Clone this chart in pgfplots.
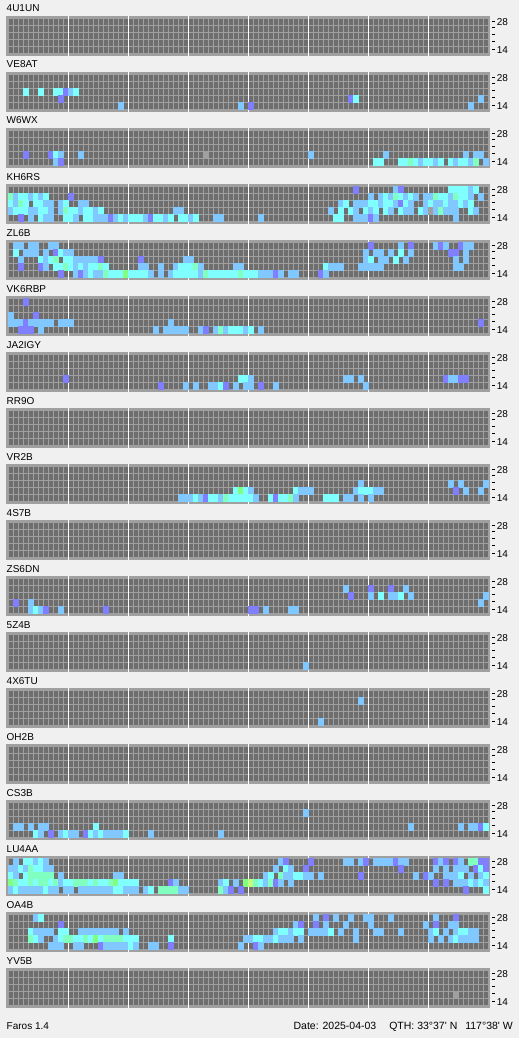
\documentclass[border=0pt]{standalone}
\usepackage{pgfplots}
\pgfplotsset{compat=1.18}
\usepackage{fontspec}
\setmainfont{Liberation Sans}
\definecolor{winbg}{HTML}{F0F0F0}
\definecolor{framegray}{HTML}{A0A0A0}
\definecolor{cellgray}{HTML}{6E6E6E}
\definecolor{colB}{HTML}{80C8FF}
\definecolor{colC}{HTML}{80FFFF}
\definecolor{colP}{HTML}{8080FF}
\definecolor{colM}{HTML}{80FFC0}
\definecolor{colG}{HTML}{80FF80}
\definecolor{colY}{HTML}{C0FF80}
\definecolor{colH}{HTML}{A0A0A0}
\newcommand{\dash}{\rule[3.2pt]{3pt}{0.8pt}}
\newcommand{\lbl}[1]{\mbox{\fontsize{10}{12}\selectfont#1}}
\pgfplotsset{
  panel/.style={
    scale only axis, width=484pt, height=40pt,
    xmin=-1, xmax=95.8, ymin=-0.857, ymax=4.857,
    axis background/.style={fill=framegray},
    axis line style={draw=none},
    axis on top,
    major tick length=0pt, minor tick length=0pt,
    xtick={-0.5,0.5,...,10.5,12.5,13.5,...,22.5,24.5,25.5,...,34.5,36.5,37.5,...,46.5,48.5,49.5,...,58.5,60.5,61.5,...,70.5,72.5,73.5,...,82.5,84.5,85.5,...,95.5},
    xticklabels={},
    xmajorgrids, major x grid style={framegray, line width=1pt},
    extra x ticks={11.5,23.5,35.5,47.5,59.5,71.5,83.5}, extra x tick labels={},
    extra x tick style={grid=major, major x grid style={white, line width=1pt}, major grid style={white, line width=1pt}},
    ytick={-0.5,0.5,...,4.5}, yticklabels={},
    ymajorgrids, major y grid style={framegray, line width=1pt},
    extra y ticks={0,1,2,3,4},
    extra y tick labels={\lbl{\dash\,14},\lbl{\dash},\lbl{\dash},\lbl{\dash},\lbl{\dash\,28}},
    extra y tick style={grid=none},
    ytick pos=right, yticklabel pos=right,
    yticklabel style={anchor=west, inner sep=0pt, xshift=2pt},
  },
  cellplot/.style={scatter, only marks, point meta=explicit symbolic,
    mark=square*, mark size=2.5pt, mark options={yscale=1.4},
    scatter/classes={b={mark=square*,colB}, c={mark=square*,colC}, p={mark=square*,colP},
      m={mark=square*,colM}, g={mark=square*,colG}, y={mark=square*,colY}, h={mark=square*,colH}}},
}
\newcommand{\cells}[1]{\addplot[cellplot] table[row sep=\\, header=false, x index=0, y index=1, meta index=2]{#1};}
\newcommand{\panel}[3]{%
  \node[anchor=base west, inner sep=0pt, font=\fontsize{10}{12}\selectfont] at (6.5pt,{-12pt-56pt*#1}) {#2};
  \begin{axis}[panel, at={(6pt,{-56pt-56pt*#1})}, anchor=south west]
    \addplot[fill=cellgray, draw=none] coordinates {(-0.5,-0.5) (95.5,-0.5) (95.5,4.5) (-0.5,4.5)};
    #3
  \end{axis}}
\begin{document}
\begin{tikzpicture}
\path[use as bounding box, fill=winbg] (0,0) rectangle (519pt,-1038pt);

\panel{0}{4U1UN}{}

\panel{1}{VE8AT}{\cells{3 2 c\\6 2 c\\9 2 c\\10 2 c\\11 2 p\\12 2 b\\13 2 c\\
10 1 p\\68 1 p\\69 1 c\\94 1 b\\
22 0 b\\46 0 b\\48 0 p\\92 0 b\\}}

\panel{2}{W6WX}{\cells{3 1 p\\8 1 p\\9 1 c\\10 1 b\\14 1 b\\39 1 h\\60 1 b\\75 1 b\\91 1 b\\93 1 b\\94 1 b\\
9 0 b\\10 0 p\\73 0 c\\74 0 c\\78 0 c\\79 0 c\\80 0 m\\81 0 c\\82 0 b\\83 0 c\\84 0 c\\85 0 b\\86 0 c\\88 0 c\\89 0 b\\90 0 c\\91 0 c\\92 0 b\\93 0 m\\95 0 b\\}}

\panel{3}{KH6RS}{\cells{69 4 p\\77 4 b\\78 4 p\\88 4 c\\89 4 c\\90 4 c\\91 4 c\\92 4 b\\93 4 c\\
0 3 m\\1 3 b\\2 3 c\\3 3 c\\4 3 b\\5 3 c\\6 3 b\\7 3 c\\12 3 p\\72 3 b\\74 3 b\\75 3 c\\76 3 b\\77 3 m\\78 3 c\\79 3 b\\80 3 c\\81 3 b\\83 3 b\\84 3 b\\85 3 m\\86 3 c\\87 3 c\\88 3 b\\89 3 m\\90 3 c\\91 3 c\\92 3 b\\94 3 b\\
0 2 c\\1 2 b\\2 2 m\\3 2 c\\5 2 c\\6 2 c\\7 2 b\\8 2 b\\10 2 b\\11 2 c\\14 2 b\\15 2 b\\66 2 b\\67 2 c\\69 2 b\\70 2 b\\71 2 b\\72 2 c\\73 2 c\\74 2 b\\75 2 c\\76 2 c\\77 2 b\\78 2 p\\79 2 c\\80 2 b\\83 2 b\\84 2 c\\85 2 b\\86 2 b\\87 2 c\\88 2 b\\89 2 b\\90 2 c\\91 2 b\\92 2 c\\
0 1 b\\1 1 c\\2 1 c\\3 1 c\\4 1 b\\5 1 b\\6 1 c\\7 1 c\\8 1 b\\10 1 b\\11 1 m\\12 1 c\\13 1 c\\14 1 b\\15 1 c\\16 1 c\\17 1 b\\18 1 c\\33 1 b\\34 1 b\\64 1 b\\66 1 c\\68 1 c\\69 1 b\\71 1 c\\72 1 b\\73 1 c\\75 1 c\\76 1 b\\78 1 c\\79 1 b\\80 1 b\\82 1 c\\83 1 b\\84 1 h\\85 1 b\\86 1 m\\87 1 b\\88 1 b\\89 1 b\\92 1 c\\93 1 b\\
2 0 p\\4 0 b\\6 0 c\\7 0 b\\8 0 b\\11 0 c\\12 0 c\\13 0 b\\15 0 c\\16 0 c\\17 0 b\\18 0 b\\19 0 b\\20 0 p\\21 0 b\\22 0 c\\23 0 b\\24 0 c\\25 0 c\\26 0 c\\27 0 b\\28 0 p\\29 0 c\\30 0 c\\31 0 b\\32 0 c\\34 0 c\\35 0 c\\36 0 b\\37 0 c\\41 0 b\\42 0 b\\50 0 b\\65 0 c\\66 0 c\\69 0 b\\70 0 b\\71 0 b\\72 0 p\\73 0 b\\89 0 b\\}}

\panel{4}{ZL6B}{\cells{1 4 b\\2 4 b\\4 4 b\\5 4 b\\8 4 b\\9 4 b\\72 4 p\\78 4 b\\80 4 p\\85 4 b\\86 4 p\\87 4 b\\90 4 p\\91 4 b\\92 4 b\\
1 3 c\\3 3 b\\4 3 b\\5 3 b\\7 3 b\\9 3 p\\10 3 c\\11 3 b\\12 3 b\\71 3 b\\73 3 b\\74 3 b\\76 3 b\\78 3 c\\80 3 b\\88 3 p\\89 3 p\\91 3 b\\
2 2 b\\6 2 c\\7 2 b\\8 2 c\\9 2 m\\11 2 c\\12 2 c\\13 2 b\\14 2 b\\15 2 b\\16 2 b\\17 2 b\\18 2 p\\26 2 p\\35 2 b\\36 2 b\\71 2 b\\72 2 c\\74 2 b\\75 2 b\\77 2 c\\79 2 b\\89 2 b\\91 2 b\\
2 1 p\\6 1 p\\7 1 b\\9 1 c\\10 1 c\\11 1 m\\12 1 c\\13 1 b\\14 1 c\\15 1 b\\16 1 c\\17 1 c\\18 1 m\\19 1 c\\26 1 b\\27 1 b\\30 1 b\\33 1 b\\34 1 c\\35 1 c\\36 1 c\\37 1 m\\38 1 b\\45 1 b\\46 1 b\\63 1 c\\64 1 b\\65 1 b\\66 1 b\\70 1 b\\71 1 b\\72 1 b\\73 1 b\\74 1 b\\89 1 b\\90 1 b\\
10 0 p\\13 0 b\\14 0 p\\15 0 b\\16 0 c\\17 0 b\\18 0 b\\19 0 m\\20 0 c\\21 0 c\\22 0 c\\23 0 g\\24 0 c\\25 0 c\\26 0 c\\27 0 c\\28 0 b\\30 0 b\\32 0 b\\33 0 c\\34 0 c\\35 0 c\\36 0 c\\37 0 c\\38 0 b\\39 0 m\\40 0 c\\41 0 c\\42 0 c\\43 0 c\\44 0 c\\45 0 c\\46 0 m\\47 0 c\\48 0 c\\49 0 c\\50 0 b\\51 0 b\\52 0 b\\53 0 p\\54 0 b\\56 0 b\\57 0 b\\62 0 p\\63 0 b\\}}

\panel{5}{VK6RBP}{\cells{3 4 p\\
0 2 b\\5 2 p\\
0 1 b\\1 1 b\\2 1 b\\3 1 p\\4 1 b\\5 1 b\\6 1 b\\7 1 b\\8 1 b\\10 1 b\\11 1 b\\12 1 b\\32 1 b\\94 1 p\\
2 0 p\\3 0 p\\4 0 p\\6 0 b\\29 0 b\\31 0 b\\32 0 b\\33 0 b\\34 0 b\\35 0 b\\38 0 b\\39 0 p\\41 0 b\\42 0 m\\43 0 b\\44 0 c\\45 0 c\\46 0 c\\47 0 b\\48 0 c\\50 0 b\\}}

\panel{6}{JA2IGY}{\cells{11 1 p\\46 1 c\\47 1 c\\48 1 b\\67 1 b\\68 1 b\\70 1 b\\87 1 p\\88 1 b\\89 1 b\\90 1 p\\91 1 p\\
30 0 p\\35 0 b\\37 0 b\\40 0 b\\41 0 b\\42 0 c\\43 0 p\\45 0 b\\47 0 b\\48 0 b\\50 0 p\\53 0 b\\71 0 b\\}}

\panel{7}{RR9O}{}

\panel{8}{VR2B}{\cells{70 2 b\\88 2 b\\90 2 b\\95 2 b\\
45 1 c\\46 1 g\\47 1 c\\48 1 b\\57 1 c\\58 1 b\\59 1 b\\60 1 b\\69 1 b\\70 1 c\\71 1 c\\72 1 c\\73 1 b\\74 1 b\\89 1 p\\91 1 b\\94 1 b\\
34 0 b\\35 0 b\\36 0 b\\37 0 c\\38 0 b\\39 0 p\\40 0 c\\41 0 c\\42 0 b\\43 0 m\\44 0 c\\45 0 c\\46 0 c\\47 0 c\\48 0 c\\49 0 b\\52 0 c\\53 0 p\\54 0 c\\55 0 c\\56 0 m\\57 0 b\\63 0 c\\64 0 c\\65 0 c\\67 0 b\\68 0 b\\70 0 b\\72 0 b\\}}

\panel{9}{4S7B}{}

\panel{10}{ZS6DN}{\cells{67 3 b\\72 3 p\\76 3 p\\79 3 b\\
68 2 p\\72 2 b\\74 2 c\\76 2 b\\77 2 b\\78 2 c\\80 2 b\\95 2 b\\
1 1 p\\4 1 b\\94 1 b\\
4 0 b\\5 0 c\\6 0 b\\7 0 p\\10 0 b\\19 0 p\\48 0 p\\49 0 p\\51 0 b\\56 0 b\\57 0 b\\}}

\panel{11}{5Z4B}{\cells{59 0 b\\}}

\panel{12}{4X6TU}{\cells{70 3 b\\62 0 b\\}}

\panel{13}{OH2B}{}

\panel{14}{CS3B}{\cells{59 3 b\\
1 1 b\\2 1 b\\4 1 b\\6 1 b\\7 1 b\\17 1 c\\80 1 b\\90 1 b\\92 1 b\\93 1 b\\94 1 p\\95 1 c\\
5 0 c\\6 0 b\\8 0 p\\10 0 b\\11 0 c\\12 0 b\\13 0 b\\15 0 p\\16 0 c\\17 0 b\\18 0 c\\19 0 b\\20 0 b\\21 0 b\\22 0 b\\23 0 c\\28 0 b\\42 0 b\\}}

\panel{15}{LU4AA}{\cells{1 4 b\\3 4 c\\4 4 c\\5 4 b\\6 4 c\\7 4 b\\54 4 b\\55 4 p\\60 4 p\\67 4 b\\68 4 b\\70 4 b\\71 4 p\\73 4 b\\74 4 b\\75 4 b\\76 4 b\\77 4 p\\78 4 b\\79 4 b\\85 4 p\\86 4 b\\87 4 p\\89 4 p\\90 4 b\\92 4 m\\93 4 m\\94 4 p\\95 4 p\\
0 3 b\\1 3 b\\2 3 c\\3 3 b\\4 3 m\\5 3 c\\6 3 c\\7 3 b\\8 3 b\\53 3 b\\55 3 c\\56 3 b\\59 3 p\\78 3 p\\85 3 b\\87 3 b\\89 3 b\\90 3 b\\91 3 b\\93 3 p\\94 3 c\\95 3 p\\
0 2 c\\1 2 b\\3 2 c\\4 2 m\\5 2 m\\6 2 m\\7 2 m\\8 2 m\\10 2 b\\21 2 b\\22 2 b\\51 2 b\\52 2 c\\54 2 m\\55 2 b\\56 2 b\\57 2 c\\58 2 c\\59 2 b\\60 2 b\\62 2 b\\70 2 p\\81 2 b\\83 2 p\\84 2 b\\87 2 b\\88 2 b\\89 2 b\\90 2 c\\92 2 b\\94 2 b\\95 2 c\\
0 1 g\\1 1 m\\2 1 c\\3 1 c\\4 1 m\\5 1 c\\6 1 m\\7 1 m\\8 1 c\\9 1 m\\10 1 b\\11 1 c\\12 1 c\\13 1 m\\14 1 m\\15 1 m\\16 1 c\\17 1 m\\18 1 c\\19 1 c\\20 1 m\\21 1 g\\22 1 c\\23 1 c\\24 1 c\\25 1 c\\32 1 p\\33 1 b\\42 1 b\\43 1 c\\45 1 b\\47 1 g\\48 1 y\\49 1 m\\50 1 c\\51 1 b\\52 1 m\\53 1 p\\54 1 b\\56 1 b\\85 1 p\\87 1 p\\89 1 b\\90 1 b\\91 1 b\\92 1 c\\93 1 b\\94 1 c\\95 1 b\\
0 0 b\\1 0 c\\2 0 b\\3 0 b\\4 0 b\\5 0 b\\6 0 b\\7 0 c\\8 0 b\\9 0 b\\11 0 b\\12 0 b\\14 0 b\\15 0 b\\16 0 b\\17 0 b\\18 0 b\\19 0 b\\20 0 b\\21 0 c\\22 0 c\\23 0 b\\24 0 b\\25 0 b\\27 0 b\\28 0 c\\30 0 m\\31 0 m\\32 0 m\\33 0 m\\34 0 b\\35 0 b\\42 0 m\\43 0 b\\44 0 p\\46 0 p\\91 0 p\\95 0 c\\}}

\panel{16}{OA4B}{\cells{5 4 b\\6 4 c\\61 4 b\\63 4 p\\65 4 b\\68 4 b\\71 4 b\\72 4 b\\76 4 b\\85 4 b\\89 4 p\\
10 3 p\\57 3 b\\58 3 p\\61 3 p\\63 3 b\\67 3 b\\72 3 b\\83 3 b\\85 3 p\\88 3 b\\89 3 b\\
4 2 c\\5 2 b\\6 2 b\\7 2 b\\8 2 b\\10 2 c\\11 2 c\\14 2 b\\15 2 b\\16 2 b\\17 2 b\\18 2 b\\19 2 b\\20 2 b\\21 2 b\\23 2 b\\53 2 b\\54 2 c\\55 2 c\\56 2 b\\57 2 c\\58 2 c\\60 2 b\\61 2 b\\62 2 b\\63 2 b\\64 2 c\\66 2 b\\69 2 b\\73 2 b\\74 2 b\\78 2 b\\84 2 b\\85 2 c\\87 2 b\\89 2 b\\90 2 c\\91 2 c\\92 2 b\\93 2 b\\
4 1 m\\5 1 c\\6 1 b\\9 1 b\\10 1 c\\11 1 m\\12 1 m\\13 1 c\\14 1 c\\15 1 m\\16 1 c\\17 1 g\\18 1 c\\19 1 m\\20 1 m\\21 1 m\\22 1 m\\23 1 c\\24 1 c\\25 1 c\\32 1 c\\47 1 b\\48 1 b\\49 1 c\\50 1 c\\51 1 b\\52 1 b\\53 1 c\\54 1 b\\55 1 b\\56 1 b\\58 1 b\\69 1 b\\84 1 b\\86 1 b\\88 1 b\\89 1 c\\90 1 b\\91 1 b\\92 1 b\\93 1 b\\
8 0 b\\9 0 b\\10 0 b\\13 0 b\\14 0 b\\18 0 p\\19 0 b\\20 0 b\\21 0 b\\22 0 b\\23 0 b\\24 0 c\\25 0 b\\28 0 b\\29 0 b\\32 0 p\\46 0 b\\49 0 p\\50 0 b\\}}

\panel{17}{YV5B}{\cells{89 1 h\\}}

\node[anchor=base west, inner sep=0pt, font=\fontsize{10}{12}\selectfont] at (6.5pt,-1029pt) {Faros 1.4};
\node[anchor=base east, inner sep=0pt, font=\fontsize{10.5}{12}\selectfont] at (513pt,-1029pt)
  {Date: 2025-04-03\hspace{13pt}QTH: 33°37\textquotesingle{} N\hspace{8pt}117°38\textquotesingle{} W};
\end{tikzpicture}
\end{document}
